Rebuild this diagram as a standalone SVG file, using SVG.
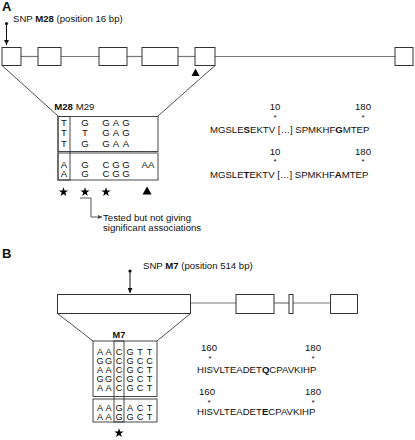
<svg xmlns="http://www.w3.org/2000/svg" width="415" height="440" viewBox="0 0 415 440">
<style>
text{font-family:"Liberation Sans",Arial,sans-serif;font-size:9.6px;fill:#111}
.pl{font-size:13px;font-weight:bold}
.b{font-weight:bold}
.m{text-anchor:middle}
.ex{fill:#fff;stroke:#333;stroke-width:1}
.in{stroke:#777;stroke-width:1.2;fill:none}
.zl{stroke:#222;stroke-width:0.8;fill:none}
.al{fill:none;stroke:#333;stroke-width:0.9}
.pin{stroke:#111;stroke-width:1;fill:none}
.ast{font-size:8px}
.lt{font-size:9.2px}
</style>
<defs>
<marker id="ah" viewBox="0 0 6 6" refX="6" refY="3" markerWidth="5" markerHeight="5" orient="auto"><path d="M0,0 L6,3 L0,6 z" fill="#111"/></marker>
<marker id="ag" viewBox="0 0 6 6" refX="6" refY="3" markerWidth="5" markerHeight="5" orient="auto"><path d="M0,0 L6,3 L0,6 z" fill="#444"/></marker>
<polygon id="star" points="0,-4.8 1.13,-1.55 4.57,-1.48 1.82,0.59 2.82,3.88 0,1.92 -2.82,3.88 -1.82,0.59 -4.57,-1.48 -1.13,-1.55" fill="#000"/>
</defs>

<!-- Panel A -->
<text class="pl" x="2" y="11">A</text>
<g id="snpA">
<text x="13" y="22">SNP <tspan class="b">M28</tspan> (position 16 bp)</text>
<circle cx="6.5" cy="23.5" r="1.6" fill="#111"/>
<line class="pin" x1="6.5" y1="24" x2="6.5" y2="45" marker-end="url(#ah)"/>
</g>
<g id="connectors">
<line class="in" x1="21" y1="56.5" x2="38" y2="56.5"/>
<line class="in" x1="61" y1="56.5" x2="99" y2="56.5"/>
<line class="in" x1="127" y1="56.5" x2="142" y2="56.5"/>
<line class="in" x1="178" y1="56.5" x2="195" y2="56.5"/>
<line class="in" x1="215" y1="56.5" x2="395" y2="56.5"/>
<line class="zl" x1="2" y1="65.5" x2="58" y2="116"/>
<line class="zl" x1="215" y1="65.5" x2="158" y2="116"/>
<polyline points="80,198 91,198 91,217 102,217" fill="none" stroke="#444" stroke-width="0.9" marker-end="url(#ag)"/>
<line class="in" x1="190.5" y1="303" x2="236" y2="303"/>
<line class="in" x1="274" y1="303" x2="289" y2="303"/>
<line class="in" x1="293" y1="303" x2="330.5" y2="303"/>
<line class="zl" x1="57.5" y1="313.5" x2="93" y2="341"/>
<line class="zl" x1="190.5" y1="313.5" x2="157" y2="341"/>
</g>
<g id="geneA">
<rect class="ex" x="2" y="47.5" width="19" height="18"/>
<rect class="ex" x="38" y="47.5" width="23" height="18"/>
<rect class="ex" x="99" y="47.5" width="28" height="18"/>
<rect class="ex" x="142" y="47.5" width="36" height="18"/>
<rect class="ex" x="195" y="47.5" width="20" height="18"/>
<rect class="ex" x="395" y="47.5" width="18" height="18"/>
<polygon points="195.5,68.5 199.5,76 191.5,76" fill="#000"/>
</g>
<g id="alignA">
<text class="b m" x="63.5" y="110">M28</text>
<text class="m" x="85" y="110">M29</text>
<rect class="al" x="58" y="116.5" width="100" height="35"/>
<rect class="al" x="58" y="153" width="100" height="27"/>
<rect class="al" x="58" y="116.5" width="12" height="63.5"/>
<g class="m">
<text class="m" x="64" y="126">T</text><text class="m" x="85" y="126">G</text><text class="m" x="106" y="126">G</text><text class="m" x="116" y="126">A</text><text class="m" x="126" y="126">G</text>
<text class="m" x="64" y="136">T</text><text class="m" x="85" y="136">T</text><text class="m" x="106" y="136">G</text><text class="m" x="116" y="136">A</text><text class="m" x="126" y="136">G</text>
<text class="m" x="64" y="146.5">T</text><text class="m" x="85" y="146.5">G</text><text class="m" x="106" y="146.5">G</text><text class="m" x="116" y="146.5">A</text><text class="m" x="126" y="146.5">A</text>
<text class="m" x="64" y="167.5">A</text><text class="m" x="85" y="167.5">G</text><text class="m" x="106" y="167.5">C</text><text class="m" x="116" y="167.5">G</text><text class="m" x="126" y="167.5">G</text><text class="m" x="148" y="167.5">AA</text>
<text class="m" x="64" y="177">A</text><text class="m" x="85" y="177">G</text><text class="m" x="106" y="177">C</text><text class="m" x="116" y="177">G</text><text class="m" x="126" y="177">G</text>
</g>
<use href="#star" x="63.5" y="192"/>
<use href="#star" x="85" y="192"/>
<use href="#star" x="106" y="192"/>
<polygon points="147,186.5 151.5,194.5 142.5,194.5" fill="#000"/>
<text x="103" y="220.5">Tested but not giving</text>
<text x="103" y="231">significant associations</text>
</g>
<g id="protA">
<text class="m" x="275" y="110">10</text>
<text class="m ast" x="275" y="120">*</text>
<text class="m" x="363" y="110">180</text>
<text class="m ast" x="363" y="120">*</text>
<text x="210" y="133">MGSLE<tspan class="b">S</tspan>EKTV […] SPMKHF<tspan class="b">G</tspan>MTEP</text>
<text class="m" x="275" y="154.5">10</text>
<text class="m ast" x="275" y="163.5">*</text>
<text class="m" x="363" y="154.5">180</text>
<text class="m ast" x="363" y="163.5">*</text>
<text x="210" y="178">MGSLE<tspan class="b">T</tspan>EKTV […] SPMKHF<tspan class="b">A</tspan>MTEP</text>
</g>

<!-- Panel B -->
<text class="pl" x="2" y="258">B</text>
<g id="snpB">
<text x="143" y="269">SNP <tspan class="b">M7</tspan> (position 514 bp)</text>
<circle cx="130" cy="271" r="1.6" fill="#111"/>
<line class="pin" x1="130" y1="271.5" x2="130" y2="293" marker-end="url(#ah)"/>
</g>
<g id="geneB">
<rect class="ex" x="57.5" y="294.5" width="133" height="19"/>
<rect class="ex" x="236" y="294.5" width="38" height="19"/>
<rect class="ex" x="289" y="294.5" width="4" height="19"/>
<rect class="ex" x="330.5" y="294.5" width="27" height="19"/>
</g>
<g id="alignB">
<text class="b m lt" x="119" y="338">M7</text>
<rect class="al" x="93" y="341" width="64" height="55.5"/>
<rect class="al" x="93" y="399" width="64" height="23"/>
<rect class="al" x="114" y="341" width="10" height="81"/>
<g class="lt">
<text class="m lt" x="100" y="354.5">A</text><text class="m lt" x="108.5" y="354.5">A</text><text class="m lt" x="119" y="354.5">C</text><text class="m lt" x="130" y="354.5">G</text><text class="m lt" x="140" y="354.5">T</text><text class="m lt" x="149.5" y="354.5">T</text>
<text class="m lt" x="100" y="363.5">G</text><text class="m lt" x="108.5" y="363.5">G</text><text class="m lt" x="119" y="363.5">C</text><text class="m lt" x="130" y="363.5">G</text><text class="m lt" x="140" y="363.5">C</text><text class="m lt" x="149.5" y="363.5">C</text>
<text class="m lt" x="100" y="372.5">A</text><text class="m lt" x="108.5" y="372.5">A</text><text class="m lt" x="119" y="372.5">C</text><text class="m lt" x="130" y="372.5">G</text><text class="m lt" x="140" y="372.5">C</text><text class="m lt" x="149.5" y="372.5">T</text>
<text class="m lt" x="100" y="381.5">G</text><text class="m lt" x="108.5" y="381.5">G</text><text class="m lt" x="119" y="381.5">C</text><text class="m lt" x="130" y="381.5">G</text><text class="m lt" x="140" y="381.5">C</text><text class="m lt" x="149.5" y="381.5">T</text>
<text class="m lt" x="100" y="391">A</text><text class="m lt" x="108.5" y="391">A</text><text class="m lt" x="119" y="391">C</text><text class="m lt" x="130" y="391">G</text><text class="m lt" x="140" y="391">C</text><text class="m lt" x="149.5" y="391">T</text>
<text class="m lt" x="100" y="411">A</text><text class="m lt" x="108.5" y="411">A</text><text class="m lt" x="119" y="411">G</text><text class="m lt" x="130" y="411">A</text><text class="m lt" x="140" y="411">C</text><text class="m lt" x="149.5" y="411">T</text>
<text class="m lt" x="100" y="420">A</text><text class="m lt" x="108.5" y="420">A</text><text class="m lt" x="119" y="420">G</text><text class="m lt" x="130" y="420">G</text><text class="m lt" x="140" y="420">C</text><text class="m lt" x="149.5" y="420">T</text>
</g>
<use href="#star" x="119" y="433"/>
</g>
<g id="protB">
<text class="m" x="209" y="351">160</text>
<text class="m ast" x="210" y="361">*</text>
<text class="m" x="313" y="351">180</text>
<text class="m ast" x="313" y="361">*</text>
<text x="197" y="373">HISVLTEADET<tspan class="b">Q</tspan>CPAVKIHP</text>
<text class="m" x="207" y="395">160</text>
<text class="m ast" x="209" y="404.5">*</text>
<text class="m" x="313" y="395">180</text>
<text class="m ast" x="313" y="404.5">*</text>
<text x="197" y="415">HISVLTEADET<tspan class="b">E</tspan>CPAVKIHP</text>
</g>
</svg>
